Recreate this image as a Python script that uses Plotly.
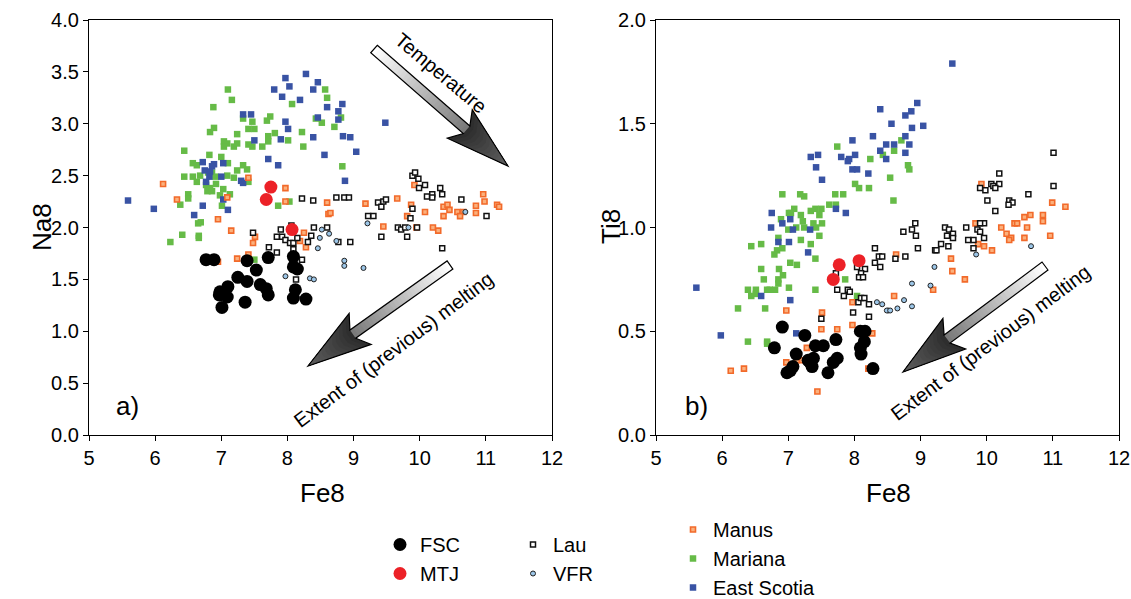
import numpy as np
import plotly.graph_objects as go

W, H = 1131, 599

# ---------------- Panel a) : Fe8 vs Na8 ----------------
fsc_a_fe = [6.77, 6.89, 7.39, 7.53, 7.71, 8.09, 8.09, 8.15, 7.25, 7.39, 7.59, 7.68, 7.71, 7.10, 6.98, 6.97, 7.09, 7.01, 7.36, 8.12, 8.09, 8.28]
fsc_a_na = [1.69, 1.69, 1.68, 1.59, 1.71, 1.72, 1.62, 1.60, 1.52, 1.48, 1.45, 1.41, 1.35, 1.43, 1.38, 1.35, 1.33, 1.23, 1.28, 1.40, 1.32, 1.31]

mtj_a_fe = [7.75, 7.68, 8.07]
mtj_a_na = [2.39, 2.27, 1.98]

lau_a_fe = [8.22, 8.39, 7.90, 7.48, 7.84, 7.92, 7.97, 8.04, 8.09, 8.06, 8.15, 8.31, 8.36, 8.40, 8.60, 7.72, 7.84, 8.09,
            8.74, 8.86, 8.93, 9.22, 9.30, 9.37, 9.42, 9.45, 9.49, 9.89, 9.93, 9.98, 9.99, 10.08, 10.11, 10.19, 10.19,
            10.31, 10.34, 10.63, 9.89, 9.86, 9.67, 9.72, 9.78, 9.81, 9.96, 9.42, 8.95, 8.77, 8.22, 8.13, 10.34, 11.01]
lau_a_na = [2.28, 2.26, 1.98, 1.95, 1.91, 1.91, 1.88, 1.85, 1.85, 2.02, 1.90, 1.86, 1.92, 2.00, 2.00, 1.81, 1.76, 1.79,
            2.29, 2.29, 2.29, 2.11, 2.11, 2.24, 2.20, 2.25, 2.27, 2.50, 2.53, 2.47, 2.38, 2.41, 2.30, 2.32, 2.29,
            2.38, 2.32, 2.27, 2.18, 2.09, 2.00, 1.98, 2.00, 1.91, 2.00, 1.91, 1.86, 1.86, 1.69, 1.50, 1.80, 2.11]

vfr_a_fe = [8.52, 8.63, 8.49, 8.46, 8.74, 9.21, 8.86, 8.86, 9.15, 7.97, 8.34, 8.40, 9.83, 10.69]
vfr_a_na = [1.98, 1.94, 1.90, 1.80, 1.87, 2.04, 1.68, 1.63, 1.61, 1.53, 1.51, 1.50, 2.00, 2.15]

manus_a_fe = [6.12, 6.33, 6.95, 7.15, 7.09, 7.41, 7.97, 7.97, 8.60, 8.62, 8.25, 8.19, 7.48, 7.51, 8.28, 7.41, 7.24, 6.95,
              9.18, 9.66, 9.92, 9.87, 9.81, 9.45, 10.08, 9.95, 10.20, 10.28, 10.36, 10.36, 10.42, 10.45, 10.57, 10.66,
              10.61, 10.85, 10.85, 10.96, 10.98, 11.17, 11.20, 8.65]
manus_a_na = [2.42, 2.27, 2.08, 1.97, 2.29, 2.48, 2.38, 2.25, 2.24, 2.13, 1.95, 1.87, 1.85, 1.91, 1.81, 1.74, 1.70, 1.67,
              2.23, 2.28, 2.41, 2.22, 2.11, 2.01, 2.15, 2.00, 2.00, 1.97, 2.11, 2.20, 2.22, 2.17, 2.15, 2.15,
              2.11, 2.21, 2.14, 2.32, 2.25, 2.22, 2.20, 2.14]

mariana_a_fe = [7.10, 7.16, 6.88, 8.07, 7.74, 7.69, 7.33, 7.47, 8.43, 8.52, 8.60, 8.57, 6.89, 6.83, 7.24, 7.41, 7.50,
                7.71, 7.71, 7.81, 8.01, 8.22, 8.24, 7.04, 7.09, 7.04, 7.19, 7.24, 7.41, 7.47, 7.62, 6.44, 6.82, 7.00,
                6.57, 6.63, 7.10, 7.33, 7.39, 7.24, 6.44, 6.57, 6.68, 6.80, 6.86, 6.91, 7.09, 7.19, 6.63, 6.77, 6.92,
                6.83, 6.79, 6.86, 7.03, 6.98, 7.13, 7.41, 6.50, 6.50, 6.38, 7.01, 7.86, 8.03, 6.69, 6.65, 6.41, 6.66,
                6.66, 6.23, 8.81, 8.71, 8.83, 7.50]
mariana_a_na = [3.33, 3.23, 3.16, 3.19, 3.07, 3.03, 3.05, 3.02, 3.05, 3.01, 3.25, 3.33, 2.96, 2.92, 2.90, 2.95, 2.95,
                2.88, 2.83, 2.91, 2.84, 2.92, 2.78, 2.83, 2.81, 2.78, 2.78, 2.81, 2.80, 2.78, 2.78, 2.74, 2.70, 2.68,
                2.62, 2.60, 2.62, 2.60, 2.56, 2.55, 2.49, 2.49, 2.50, 2.53, 2.53, 2.49, 2.50, 2.48, 2.44, 2.41, 2.42,
                2.38, 2.35, 2.35, 2.37, 2.31, 2.32, 2.44, 2.32, 2.28, 2.22, 2.21, 2.21, 2.25, 2.05, 2.04, 1.93, 1.92,
                1.90, 1.86, 3.06, 2.97, 2.59, 1.69]

scotia_a_fe = [7.97, 8.28, 8.46, 8.39, 8.03, 7.80, 7.92, 8.19, 8.60, 7.33, 7.45, 7.97, 8.01, 7.50, 7.90, 8.39, 8.56,
               7.71, 7.86, 6.72, 6.89, 6.86, 7.03, 6.75, 6.83, 7.00, 6.82, 6.77, 7.30, 7.33, 7.03, 6.72, 7.10, 6.59,
               5.59, 5.98, 8.83, 8.77, 8.77, 8.46, 8.84, 8.95, 9.04, 9.48, 8.87]
scotia_a_na = [3.44, 3.48, 3.40, 3.33, 3.36, 3.33, 3.26, 3.23, 3.16, 3.09, 3.09, 3.02, 2.95, 2.84, 2.85, 2.87, 2.70,
               2.66, 2.60, 2.63, 2.61, 2.59, 2.62, 2.55, 2.54, 2.49, 2.49, 2.44, 2.45, 2.43, 2.27, 2.21, 2.17, 2.12,
               2.26, 2.18, 3.19, 3.12, 3.04, 3.06, 2.88, 2.87, 2.73, 3.01, 2.45]

# ---------------- Panel b) : Fe8 vs Ti8 ----------------
fsc_b_fe = [6.91, 6.79, 7.25, 7.41, 7.53, 7.72, 7.12, 7.30, 7.38, 7.36, 7.33, 7.68, 7.74, 7.60, 7.07, 7.03, 6.98, 8.09, 8.16, 8.15, 8.09, 8.10, 8.28]
fsc_b_ti = [0.52, 0.42, 0.48, 0.43, 0.43, 0.46, 0.39, 0.36, 0.37, 0.33, 0.35, 0.35, 0.37, 0.30, 0.33, 0.31, 0.30, 0.50, 0.50, 0.45, 0.42, 0.39, 0.32]

mtj_b_fe = [7.77, 8.07, 7.68]
mtj_b_ti = [0.82, 0.84, 0.75]

lau_b_fe = [8.31, 8.37, 8.42, 8.31, 8.39, 8.04, 8.16, 7.72, 8.10, 8.07, 8.13, 7.74, 7.90, 7.93, 7.84, 8.06, 8.10, 8.15,
            8.22, 7.98, 8.22, 7.50, 8.62, 8.77, 8.74, 8.87, 8.92, 8.93, 8.96, 9.22, 9.31, 9.42, 9.37, 9.43, 9.49,
            9.40, 9.49, 9.24, 11.01, 11.01, 10.19, 10.07, 10.19, 10.10, 10.13, 9.90, 9.98, 10.01, 10.13, 10.34,
            10.39, 10.33, 10.63, 9.96, 9.90, 9.86, 9.90, 9.69, 9.96, 9.80, 9.72, 9.80]
lau_b_ti = [0.90, 0.86, 0.86, 0.83, 0.81, 0.81, 0.80, 0.78, 0.78, 0.76, 0.76, 0.70, 0.70, 0.69, 0.67, 0.64, 0.66, 0.66,
            0.63, 0.59, 0.57, 0.56, 0.85, 0.86, 0.98, 0.99, 1.02, 0.96, 0.90, 0.89, 0.92, 0.91, 1.00, 0.99, 0.97,
            0.96, 0.95, 0.89, 1.36, 1.20, 1.26, 1.21, 1.21, 1.20, 1.19, 1.19, 1.18, 1.13, 1.08, 1.13,
            1.12, 1.11, 1.16, 1.02, 1.02, 0.99, 0.98, 1.00, 0.95, 0.94, 0.94, 0.90]

vfr_b_fe = [9.21, 8.87, 9.15, 8.75, 8.87, 8.65, 8.51, 8.49, 8.54, 8.42, 8.34, 10.67, 9.84]
vfr_b_ti = [0.81, 0.73, 0.72, 0.65, 0.62, 0.61, 0.60, 0.60, 0.60, 0.63, 0.64, 0.91, 0.87]

manus_b_fe = [8.63, 9.46, 9.48, 9.19, 8.60, 7.97, 7.51, 6.97, 7.50, 7.74, 7.97, 8.27, 7.28, 6.97, 7.13, 7.21, 6.13, 6.33,
              8.21, 7.44, 9.92, 10.99, 11.19, 10.57, 10.66, 10.42, 10.46, 10.22, 10.30, 10.37, 10.34, 10.61, 10.57,
              10.85, 10.85, 10.96, 9.83, 9.87, 9.96, 10.08, 9.67]
manus_b_ti = [0.87, 0.85, 0.79, 0.70, 0.67, 0.64, 0.59, 0.60, 0.51, 0.51, 0.53, 0.49, 0.42, 0.35, 0.36, 0.36, 0.31, 0.32,
              0.32, 0.21, 1.21, 1.12, 1.10, 1.05, 1.06, 1.02, 1.02, 1.00, 0.97, 0.95, 0.94, 1.00, 0.95,
              1.06, 1.03, 0.96, 1.02, 0.92, 0.91, 0.89, 0.75]

mariana_b_fe = [7.74, 8.24, 8.43, 8.60, 8.71, 8.81, 8.83, 8.54, 8.59, 8.01, 8.07, 8.22, 6.91, 7.18, 7.24, 7.71, 7.83,
                7.62, 7.72, 7.41, 7.50, 7.34, 7.47, 7.09, 7.01, 7.04, 6.89, 7.19, 7.22, 7.38, 7.42, 7.51, 7.24, 7.12,
                7.00, 7.47, 7.19, 7.34, 6.85, 6.44, 6.59, 6.83, 6.79, 6.91, 6.92, 7.03, 7.13, 6.86, 6.63, 6.59, 6.85,
                6.85, 6.80, 6.72, 6.68, 6.39, 6.51, 6.51, 6.44, 7.01, 7.41, 7.41, 6.24, 6.65, 7.86, 8.04, 6.39, 6.68, 6.68]
mariana_b_ti = [1.39, 1.33, 1.35, 1.37, 1.42, 1.30, 1.28, 1.24, 1.13, 1.21, 1.19, 1.19, 1.16, 1.16, 1.15, 1.16, 1.16,
                1.11, 1.11, 1.09, 1.09, 1.08, 1.06, 1.09, 1.07, 1.07, 1.04, 1.06, 1.03, 1.02, 1.00, 1.02, 1.00, 1.00,
                0.99, 0.96, 0.94, 0.92, 0.95, 0.91, 0.92, 0.89, 0.87, 0.90, 0.77, 0.83, 0.82, 0.80, 0.75, 0.80, 0.75,
                0.73, 0.70, 0.70, 0.70, 0.70, 0.70, 0.68, 0.67, 0.71, 0.70, 0.85, 0.61, 0.61, 0.75, 0.67, 0.45, 0.45, 0.44]

scotia_b_fe = [9.48, 8.95, 8.86, 8.77, 8.39, 8.56, 8.87, 9.04, 7.97, 8.28, 8.77, 8.48, 8.60, 8.83, 8.39, 8.48, 8.77,
               7.34, 7.45, 7.80, 8.01, 7.92, 7.90, 7.42, 7.97, 8.04, 7.51, 8.21, 6.75, 7.03, 6.91, 6.74, 7.07, 7.33,
               7.72, 7.87, 6.85, 7.01, 7.30, 5.61, 6.59, 7.03, 5.98, 7.12]
scotia_b_ti = [1.79, 1.60, 1.56, 1.54, 1.57, 1.50, 1.48, 1.49, 1.42, 1.44, 1.44, 1.40, 1.40, 1.40, 1.37, 1.33, 1.36,
               1.34, 1.35, 1.34, 1.35, 1.33, 1.32, 1.29, 1.28, 1.28, 1.23, 1.26, 1.07, 1.04, 1.02, 1.00, 0.99, 0.99,
               1.09, 1.07, 0.93, 0.93, 0.88, 0.71, 0.67, 0.65, 0.48, 0.49]

x_ticks = [5, 6, 7, 8, 9, 10, 11, 12]
na_ticks = [0.0, 0.5, 1.0, 1.5, 2.0, 2.5, 3.0, 3.5, 4.0]
ti_ticks = [0.0, 0.5, 1.0, 1.5, 2.0]

FONT = "Liberation Sans, Arial, sans-serif"

styles = {
    "Mariana": dict(symbol="square", size=6.5, color="#66bb47", line=dict(width=0)),
    "East Scotia": dict(symbol="square", size=6.5, color="#3953a4", line=dict(width=0)),
    "Manus": dict(symbol="square", size=5, color="#fbb07c", line=dict(width=1.6, color="#f26a2a")),
    "Lau": dict(symbol="square", size=5, color="#ffffff", line=dict(width=1.5, color="#111111")),
    "VFR": dict(symbol="circle", size=5, color="#9cc6e8", line=dict(width=1, color="#222222")),
    "FSC": dict(symbol="circle", size=13, color="#000000", line=dict(width=0)),
    "MTJ": dict(symbol="circle", size=13, color="#ec2127", line=dict(width=0)),
}
legend_of = {"FSC": ("legend", 1), "MTJ": ("legend", 2), "Lau": ("legend2", 1), "VFR": ("legend2", 2),
             "Manus": ("legend3", 1), "Mariana": ("legend3", 2), "East Scotia": ("legend3", 3)}

series_a = [("Mariana", mariana_a_fe, mariana_a_na), ("East Scotia", scotia_a_fe, scotia_a_na),
            ("Manus", manus_a_fe, manus_a_na), ("Lau", lau_a_fe, lau_a_na), ("VFR", vfr_a_fe, vfr_a_na),
            ("FSC", fsc_a_fe, fsc_a_na), ("MTJ", mtj_a_fe, mtj_a_na)]
series_b = [("Mariana", mariana_b_fe, mariana_b_ti), ("East Scotia", scotia_b_fe, scotia_b_ti),
            ("Manus", manus_b_fe, manus_b_ti), ("Lau", lau_b_fe, lau_b_ti), ("VFR", vfr_b_fe, vfr_b_ti),
            ("FSC", fsc_b_fe, fsc_b_ti), ("MTJ", mtj_b_fe, mtj_b_ti)]

fig = go.Figure()
for name, xs, ys in series_a:
    lg, rk = legend_of[name]
    fig.add_trace(go.Scatter(x=xs, y=ys, mode="markers", name=name, marker=styles[name],
                             xaxis="x", yaxis="y", legend=lg, legendrank=rk, showlegend=True))
for name, xs, ys in series_b:
    fig.add_trace(go.Scatter(x=xs, y=ys, mode="markers", name=name, marker=styles[name],
                             xaxis="x2", yaxis="y2", showlegend=False))

# axes geometry (pixels)
AX_L, AX_R, BX_L, BX_R, Y_T, Y_B = 89, 552, 656, 1119, 20, 435
ydom = [1 - Y_B / H, 1 - Y_T / H]
axis_common = dict(showline=True, mirror=True, linecolor="black", linewidth=1.3, ticks="outside",
                   ticklen=5, tickwidth=1.3, tickcolor="black", showgrid=False, zeroline=False,
                   automargin=False, tickfont=dict(family=FONT, size=20, color="black"))
fig.update_layout(
    xaxis=dict(domain=[AX_L / W, AX_R / W], range=[5, 12], tickvals=x_ticks, anchor="y", **axis_common),
    yaxis=dict(domain=ydom, range=[0, 4], tickvals=na_ticks, tickformat=".1f", anchor="x", **axis_common),
    xaxis2=dict(domain=[BX_L / W, BX_R / W], range=[5, 12], tickvals=x_ticks, anchor="y2", **axis_common),
    yaxis2=dict(domain=ydom, range=[0, 2], tickvals=ti_ticks, tickformat=".1f", anchor="x2", **axis_common),
)

def P(px, py):
    return px / W, 1 - py / H

anns = []
def txt(text, px, py, size, angle=0):
    x, y = P(px, py)
    anns.append(dict(text=text, x=x, y=y, xref="paper", yref="paper", showarrow=False, textangle=angle,
                     xanchor="center", yanchor="middle", font=dict(family=FONT, size=size, color="black")))

txt("Na8", 42, 227, 26, -90)
txt("Ti8", 611, 227, 26, -90)
txt("Fe8", 322, 493, 26)
txt("Fe8", 888, 493, 26)
txt("a)", 127, 406, 26)
txt("b)", 696, 406, 26)
txt("Temperature", 441, 73, 20, 40)
txt("Extent of (previous) melting", 393, 350, 20, -37)
txt("Extent of (previous) melting", 990, 343, 20, -37)

# gradient arrows (decorations), built from pixel geometry
shapes = []
def hexmix(c0, c1, t):
    a = np.array([int(c0[i:i + 2], 16) for i in (1, 3, 5)], float)
    b = np.array([int(c1[i:i + 2], 16) for i in (1, 3, 5)], float)
    c = a + (b - a) * t
    return "#%02x%02x%02x" % tuple(int(round(v)) for v in c)

def path_of(pts):
    s = ""
    for i, (px, py) in enumerate(pts):
        x, y = P(px, py)
        s += ("M" if i == 0 else "L") + f"{x:.5f},{y:.5f} "
    return s + "Z"

def arrow(tail, tip, w=5.0, head_len=55, head_w=19, notch=9, n=30,
          s0="#ffffff", s1="#7a7a7a", h0="#2e2e2e", h1="#6a6a6a"):
    T = np.array(tail, float); Q = np.array(tip, float)
    d = Q - T; L = np.hypot(*d); u = d / L; v = np.array([-u[1], u[0]])
    pt = lambda a, b: tuple(T + a * u + b * v)
    hb = L - head_len
    for k in range(n):
        a0 = hb * k / n; a1 = hb * (k + 1) / n + 0.8
        shapes.append(dict(type="path", xref="paper", yref="paper", layer="above",
                           path=path_of([pt(a0, -w), pt(a1, -w), pt(a1, w), pt(a0, w)]),
                           fillcolor=hexmix(s0, s1, k / (n - 1)), line=dict(width=0)))
    head = [np.array(pt(hb, w)), np.array(pt(hb - notch, head_w)), Q, np.array(pt(hb - notch, -head_w)), np.array(pt(hb, -w))]
    m = 12
    for k in range(m):
        s = 1 - k / m
        poly = [tuple(Q + s * (p - Q)) for p in head]
        shapes.append(dict(type="path", xref="paper", yref="paper", layer="above", path=path_of(poly),
                           fillcolor=hexmix(h0, h1, k / (m - 1) * 0.8), line=dict(width=0)))
    outline = [pt(0, -w), pt(hb, -w), pt(hb - notch, -head_w), tuple(Q), pt(hb - notch, head_w), pt(hb, w), pt(0, w)]
    shapes.append(dict(type="path", xref="paper", yref="paper", layer="above", path=path_of(outline),
                       fillcolor="rgba(0,0,0,0)", line=dict(width=1.2, color="black")))

arrow((374, 49), (508, 166))
arrow((450, 265), (308, 366))
arrow((1045, 266), (903, 372))

leg_common = dict(xanchor="left", yanchor="top", xref="container", yref="container", bgcolor="rgba(0,0,0,0)",
                  borderwidth=0, font=dict(family=FONT, size=20, color="black"), itemwidth=30, tracegroupgap=0)
fig.update_layout(
    width=W, height=H, autosize=False, margin=dict(l=0, r=0, t=0, b=0, autoexpand=False),
    paper_bgcolor="white", plot_bgcolor="white",
    annotations=anns, shapes=shapes,
    legend=dict(x=(400 - 20) / W, y=1 - 525 / H, **leg_common),
    legend2=dict(x=(533 - 20) / W, y=1 - 525 / H, **leg_common),
    legend3=dict(x=(693 - 20) / W, y=1 - 510 / H, **leg_common),
)
fig.write_html("out.html")
